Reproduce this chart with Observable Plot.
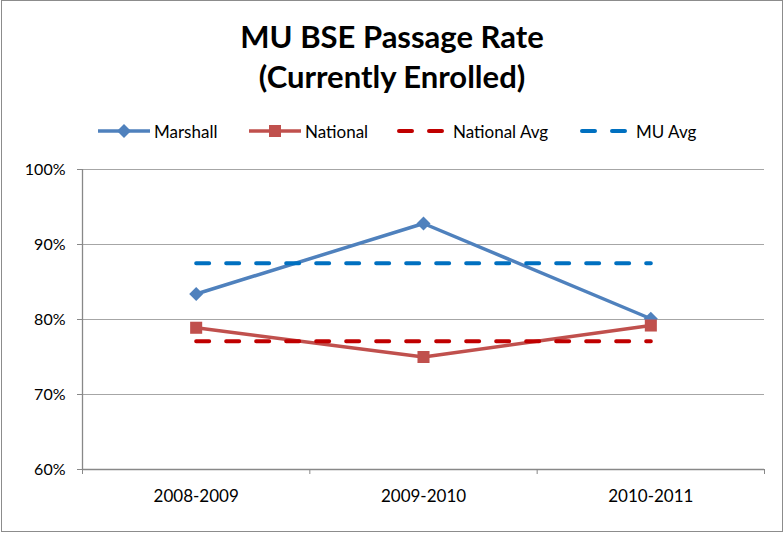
<!DOCTYPE html>
<html>
<head>
<meta charset="utf-8">
<script src="https://cdn.jsdelivr.net/npm/d3@7"></script>
<script src="https://cdn.jsdelivr.net/npm/@observablehq/plot@0.6"></script>
<style>
  html, body { margin: 0; padding: 0; background: #fff; }
  #chart { position: relative; box-sizing: border-box; width: 782px; height: 532px; border: 1px solid #8c8c8c; margin-left: 1px; font-family: Lato, "Open Sans", sans-serif; overflow: hidden; }
  .title { position: absolute; left: 0; width: 100%; text-align: center; font-weight: bold; font-size: 31px; color: #000; line-height: 1; }
  .leg { position: absolute; top: 120px; height: 20px; display: flex; align-items: center; font-size: 17px; color: #000; }
  .leg svg { display: block; }
  #plot { position: absolute; left: 0; top: 150px; }
</style>
</head>
<body>
<div id="chart">
  <div class="title" style="top:20px">MU BSE Passage Rate</div>
  <div class="title" style="top:60px">(Currently Enrolled)</div>
  <div id="legend"></div>
  <div id="plot"></div>
</div>
<script>
const years = ["2008-2009", "2009-2010", "2010-2011"];
const marshall = [0.834, 0.928, 0.801];
const national = [0.789, 0.750, 0.792];
const nationalAvg = [0.771, 0.771, 0.771];
const muAvg = [0.875, 0.875, 0.875];
const yTicks = [0.6, 0.7, 0.8, 0.9, 1.0];
const seriesNames = ["Marshall", "National", "National Avg", "MU Avg"];
const colors = {Marshall: "#4F81BD", National: "#C0504D", "National Avg": "#C00000", "MU Avg": "#0070C0"};

const rows = years.map((y, i) => ({
  x: i + 0.5, year: y,
  marshall: marshall[i], national: national[i], nationalAvg: nationalAvg[i], muAvg: muAvg[i]
}));

// Legend
const legend = document.getElementById("legend");
const legPos = {Marshall: 95, National: 246, "National Avg": 394, "MU Avg": 577};
for (const name of seriesNames) {
  const item = document.createElement("div");
  item.className = "leg";
  item.style.left = legPos[name] + "px";
  const c = colors[name];
  let svg;
  if (name === "Marshall") {
    svg = `<svg width="54" height="20"><line x1="1" y1="10" x2="53" y2="10" stroke="${c}" stroke-width="3.5"/><path d="M27,3 L34,10 L27,17 L20,10 Z" fill="${c}"/></svg>`;
  } else if (name === "National") {
    svg = `<svg width="54" height="20"><line x1="1" y1="10" x2="53" y2="10" stroke="${c}" stroke-width="3.5"/><rect x="21" y="4" width="12" height="12" fill="${c}"/></svg>`;
  } else {
    svg = `<svg width="54" height="20"><line x1="3" y1="10" x2="46" y2="10" stroke="${c}" stroke-width="4" stroke-linecap="round" stroke-dasharray="13,17"/></svg>`;
  }
  item.innerHTML = svg + `<span style="margin-left:${name === "Marshall" || name === "National" ? 3 : 3}px">${name}</span>`;
  legend.appendChild(item);
}

const chart = Plot.plot({
  width: 780,
  height: 381,
  marginLeft: 80,
  marginRight: 18,
  marginTop: 18,
  marginBottom: 63,
  x: {domain: [0, 3]},
  y: {domain: [0.6, 1.0]},
  style: {fontFamily: "Lato, 'Open Sans', sans-serif", fontSize: "17px", color: "#000", background: "transparent", overflow: "visible"},
  marks: [
    Plot.gridY(yTicks.slice(1), {stroke: "#A6A6A6", strokeOpacity: 1, strokeWidth: 1}),
    Plot.axisY(yTicks, {tickFormat: d => Math.round(d * 100) + "%", tickSize: 5, tickPadding: 12, stroke: "#888", label: null, fill: "#000", fontSize: 16}),
    Plot.ruleX([0], {stroke: "#888", strokeWidth: 1.3}),
    Plot.ruleY([0.6], {stroke: "#888", strokeWidth: 1.3}),
    Plot.axisX([0, 1, 2, 3], {tickFormat: () => "", tickSize: 5, stroke: "#888", label: null}),
    Plot.axisX([0.5, 1.5, 2.5], {tickFormat: d => years[Math.floor(d)], tickSize: 0, tickPadding: 20, label: null, fill: "#000"}),
    Plot.line(rows, {x: "x", y: "marshall", stroke: colors.Marshall, strokeWidth: 3.5}),
    Plot.dot(rows, {x: "x", y: "marshall", symbol: "diamond2", r: 6.3, fill: colors.Marshall, stroke: "none"}),
    Plot.line(rows, {x: "x", y: "national", stroke: colors.National, strokeWidth: 3.5}),
    Plot.dot(rows, {x: "x", y: "national", symbol: "square", r: 6.8, fill: colors.National, stroke: "none"}),
    Plot.line(rows, {x: "x", y: "nationalAvg", stroke: colors["National Avg"], strokeWidth: 4, strokeDasharray: "13,17", strokeLinecap: "round"}),
    Plot.line(rows, {x: "x", y: "muAvg", stroke: colors["MU Avg"], strokeWidth: 4, strokeDasharray: "13,17", strokeLinecap: "round"})
  ]
});
document.getElementById("plot").appendChild(chart);
</script>
</body>
</html>
